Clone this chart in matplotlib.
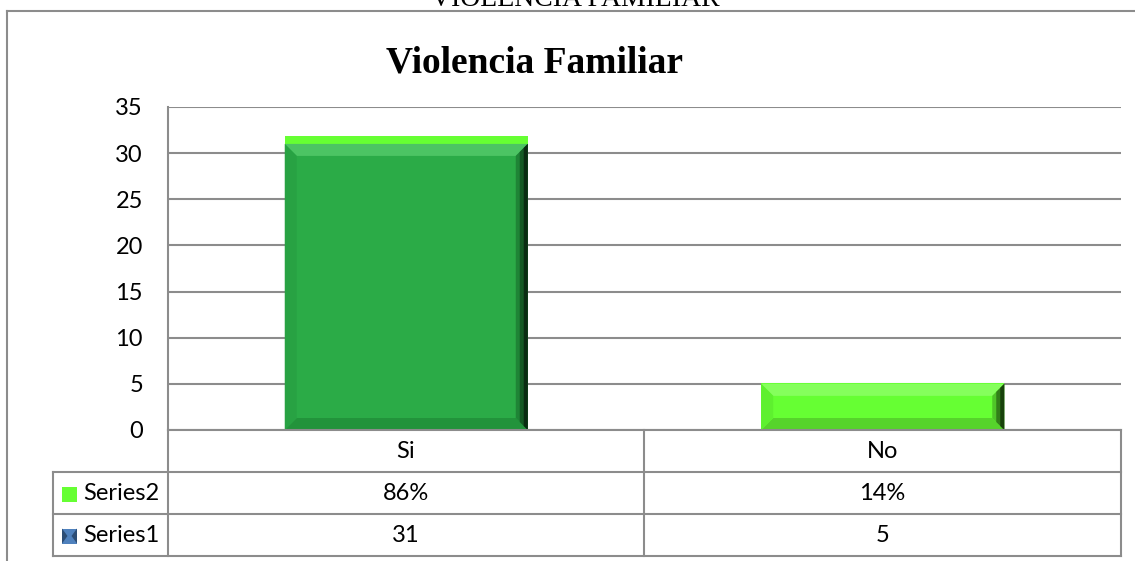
import matplotlib
matplotlib.use("Agg")
import matplotlib.pyplot as plt
from matplotlib.patches import Polygon, Rectangle
from matplotlib.lines import Line2D

# ---- data ----
categories = ["Si", "No"]
series1 = [31, 5]
series2 = [0.86, 0.14]
series2_labels = ["86%", "14%"]
series1_labels = ["31", "5"]
series_names = ["Series2", "Series1"]
yticks = [0, 5, 10, 15, 20, 25, 30, 35]

W, H = 1135, 561
fig = plt.figure(figsize=(W / 100, H / 100), dpi=100)
fig.patch.set_facecolor("white")

def fx(px):
    return px / W

def fy(py):
    return 1 - py / H

GRID = "#8c8c8c"
LABEL_FONT = ["Lato", "DejaVu Sans"]
FS = 17

# plot area
ax_l, ax_r, ax_t, ax_b = 168, 1121, 107, 430
ax = fig.add_axes([fx(ax_l), fy(ax_b), fx(ax_r - ax_l), (ax_b - ax_t) / H])
ax.set_xlim(-0.5, len(categories) - 0.5)
ax.set_ylim(0, 35)
ax.set_yticks(yticks)
ax.set_yticklabels([str(t) for t in yticks], fontsize=FS, family=LABEL_FONT)
ax.tick_params(axis="y", length=0, pad=18)
ax.set_xticks([])
for s in ["top", "right", "bottom"]:
    ax.spines[s].set_visible(False)
ax.spines["left"].set_color(GRID)
ax.spines["left"].set_linewidth(1.5)
ax.yaxis.grid(True, color=GRID, linewidth=1.5)
ax.set_axisbelow(True)
ax.patch.set_alpha(0)

# pixel-to-data conversion for bevels
px_x = (ax_r - ax_l) / (len(categories))
px_y = (ax_b - ax_t) / 35.0
bx = 12 / px_x
by = 12 / px_y

bar_w = 0.51
s1_colors = ["#2bab47", "#66ff33"]
s1_styles = [
    dict(top="#4cc463", bottom="#22933b", left="#28a243", right=["#1f8436", "#145a24", "#0a2c12"]),
    dict(top="#85ff5c", bottom="#56d42b", left="#5ef02f", right=["#4fc628", "#327f19", "#18420b"]),
]
s2_color = "#66ff33"

def bevel(x0, x1, y0, y1, st):
    b_x = min(bx, (x1 - x0) / 2)
    b_y = min(by, (y1 - y0) / 2)
    ax.add_patch(Polygon([(x0, y1), (x1, y1), (x1 - b_x, y1 - b_y), (x0 + b_x, y1 - b_y)],
                         closed=True, facecolor=st["top"], edgecolor="none", zorder=3))
    ax.add_patch(Polygon([(x0, y0), (x1, y0), (x1 - b_x, y0 + b_y), (x0 + b_x, y0 + b_y)],
                         closed=True, facecolor=st["bottom"], edgecolor="none", zorder=3))
    ax.add_patch(Polygon([(x0, y0), (x0, y1), (x0 + b_x, y1 - b_y), (x0 + b_x, y0 + b_y)],
                         closed=True, facecolor=st["left"], edgecolor="none", zorder=3))
    n = len(st["right"])
    for i, c in enumerate(st["right"]):
        f0 = i / n
        xa = x1 - b_x * (1 - f0)
        ya_t = y1 - b_y * (1 - f0)
        ya_b = y0 + b_y * (1 - f0)
        ax.add_patch(Polygon([(x1, y0), (x1, y1), (xa, ya_t), (xa, ya_b)],
                             closed=True, facecolor=c, edgecolor="none", zorder=3 + i * 0.01))

xs = list(range(len(categories)))
bars1 = ax.bar(xs, series1, width=bar_w, color=s1_colors, zorder=2, linewidth=0)
bars2 = ax.bar(xs, series2, bottom=series1, width=bar_w, color=s2_color, zorder=2, linewidth=0)
for b, st in zip(bars1, s1_styles):
    x0 = b.get_x()
    bevel(x0, x0 + b.get_width(), b.get_y(), b.get_y() + b.get_height(), st)

# ---- titles ----
fig.text(fx(535), fy(72), "Violencia Familiar", ha="center", va="baseline",
         fontsize=27, fontweight="bold", family=["Liberation Serif", "DejaVu Serif"])
fig.text(fx(575), fy(6), "VIOLENCIA FAMILIAR", ha="center", va="baseline",
         fontsize=20, family=["Liberation Serif", "DejaVu Serif"])

# ---- outer frame ----
fig.add_artist(Line2D([fx(7), fx(1135)], [fy(11), fy(11)], color=GRID, lw=1.5))
fig.add_artist(Line2D([fx(7), fx(7)], [fy(11), fy(561)], color=GRID, lw=1.5))

# ---- data table ----
row_edges = [430, 472, 514, 556]
col_edges = [ax_l, 644, ax_r]
leg_l = 53

def hline(y, x0, x1):
    fig.add_artist(Line2D([fx(x0), fx(x1)], [fy(y), fy(y)], color=GRID, lw=1.5))

def vline(x, y0, y1):
    fig.add_artist(Line2D([fx(x), fx(x)], [fy(y0), fy(y1)], color=GRID, lw=1.5))

hline(row_edges[0], ax_l, ax_r)
for y in row_edges[1:]:
    hline(y, leg_l, ax_r)
for x in col_edges:
    vline(x, row_edges[0], row_edges[-1])
vline(leg_l, row_edges[1], row_edges[-1])

col_centers = [(col_edges[i] + col_edges[i + 1]) / 2 for i in range(len(categories))]
row_centers = [(row_edges[i] + row_edges[i + 1]) / 2 + 1 for i in range(3)]
rows = [categories, series2_labels, series1_labels]
for r, vals in enumerate(rows):
    for c, v in enumerate(vals):
        fig.text(fx(col_centers[c]), fy(row_centers[r]), v, ha="center", va="center",
                 fontsize=FS, family=LABEL_FONT)

# legend keys in table
for i, name in enumerate(series_names):
    yc = row_centers[i + 1]
    fig.text(fx(83), fy(yc), name, ha="left", va="center", fontsize=FS, family=LABEL_FONT)
    k = 15
    x0, y0 = 62, yc - k / 2
    if name == "Series2":
        fig.add_artist(Rectangle((fx(x0), fy(y0 + k)), k / W, k / H,
                                 facecolor=s2_color, edgecolor="none", transform=fig.transFigure))
    else:
        fig.add_artist(Rectangle((fx(x0), fy(y0 + k)), k / W, k / H,
                                 facecolor="#4f81bd", edgecolor="none", transform=fig.transFigure))
        cx, cy = x0 + k / 2, y0 + k / 2
        fig.add_artist(Polygon([(fx(x0), fy(y0)), (fx(x0), fy(y0 + k)), (fx(cx - 2), fy(cy))],
                               closed=True, facecolor="#2c4d75", edgecolor="none", transform=fig.transFigure))
        fig.add_artist(Polygon([(fx(x0 + k), fy(y0)), (fx(x0 + k), fy(y0 + k)), (fx(cx + 2), fy(cy))],
                               closed=True, facecolor="#2c4d75", edgecolor="none", transform=fig.transFigure))

fig.savefig("out.png", dpi=100, facecolor="white")
